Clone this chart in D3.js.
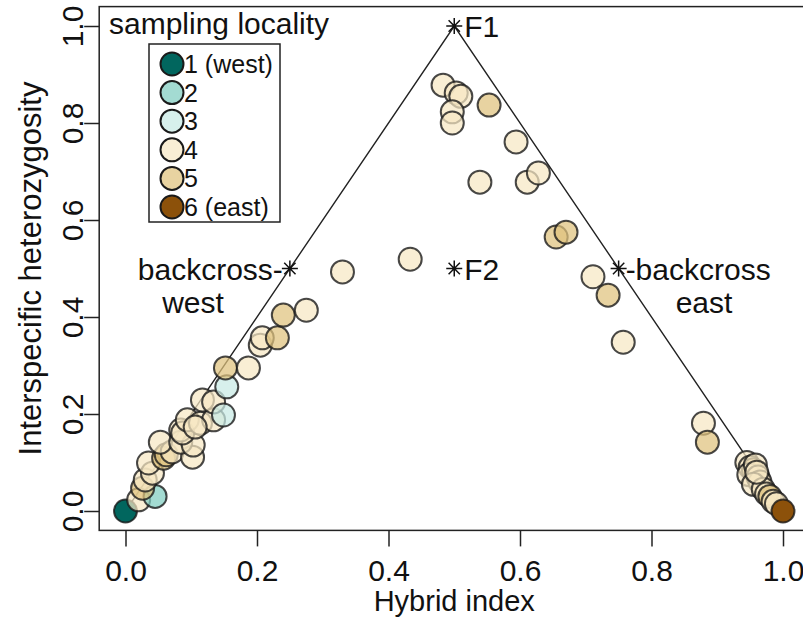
<!DOCTYPE html>
<html lang="en">
<head>
<meta charset="UTF-8">
<title>Hybrid index vs interspecific heterozygosity</title>
<style>
    body { margin: 0; background: #fff; }
    svg text { font-family: "Liberation Sans", Arial, sans-serif; fill: #111; }
</style>
</head>
<body>
<svg id="chart" width="803" height="619"></svg>
<script src="https://d3js.org/d3.v7.min.js"></script>
<script>
// data
const hybridIndex = [
    0.000, 0.020, 0.045, 0.026, 0.030, 0.041, 0.035, 0.058, 0.062, 0.071,
    0.102, 0.053, 0.084, 0.103, 0.084, 0.087, 0.094, 0.114, 0.134, 0.106,
    0.117, 0.134, 0.149, 0.154, 0.152, 0.187, 0.205, 0.208, 0.231, 0.240,
    0.275, 0.330, 0.433,
    0.483, 0.503, 0.510, 0.553, 0.497, 0.497, 0.594, 0.539, 0.611, 0.628,
    0.655, 0.670, 0.711, 0.734, 0.757, 0.879, 0.885,
    0.945, 0.950, 0.955, 0.948, 0.958, 0.962, 0.965, 0.955, 0.970, 0.975,
    0.980, 0.985, 0.960, 0.990, 1.000
];
const heterozygosity = [
    0.000, 0.023, 0.030, 0.047, 0.064, 0.078, 0.099, 0.109, 0.116, 0.122,
    0.111, 0.142, 0.142, 0.136, 0.167, 0.161, 0.188, 0.181, 0.188, 0.173,
    0.229, 0.225, 0.198, 0.256, 0.295, 0.295, 0.342, 0.357, 0.357, 0.404,
    0.414, 0.493, 0.519,
    0.878, 0.862, 0.855, 0.837, 0.823, 0.800, 0.761, 0.678, 0.678, 0.697,
    0.565, 0.575, 0.483, 0.445, 0.348, 0.181, 0.142,
    0.100, 0.090, 0.085, 0.075, 0.095, 0.070, 0.060, 0.055, 0.045, 0.035,
    0.030, 0.020, 0.080, 0.015, 0.000
];
const locality = [
    1, 4, 2, 5, 4, 4, 4, 5, 5, 4,
    4, 4, 4, 4, 4, 4, 4, 4, 4, 4,
    4, 4, 3, 3, 5, 4, 4, 4, 5, 5,
    4, 4, 4,
    4, 4, 4, 5, 4, 4, 4, 4, 4, 4,
    5, 5, 4, 5, 4, 4, 5,
    4, 4, 5, 4, 4, 4, 4, 4, 4, 4,
    5, 4, 4, 4, 6
];
const legendLabels = ["1 (west)", "2", "3", "4", "5", "6 (east)"];
const localityColors = ["#01665e", "#80cdc1", "#c7eae5", "#f6e8c3", "#dfc27d", "#8c510a"];
const xTicks = [0, 0.2, 0.4, 0.6, 0.8, 1.0];
const yTicks = [0, 0.2, 0.4, 0.6, 0.8, 1.0];
const triangle = [[0, 0], [0.5, 1], [1, 0]];
const markers = [
    { name: "F1", x: 0.5, y: 1.0 },
    { name: "F2", x: 0.5, y: 0.5 },
    { name: "bw", x: 0.25, y: 0.5 },
    { name: "be", x: 0.75, y: 0.5 }
];

const points = hybridIndex.map((h, i) => ({ x: h, y: heterozygosity[i], loc: locality[i] }));

const svg = d3.select("#chart");

// R style: 4% padding on each side
const x = d3.scaleLinear().domain([-0.04, 1.04]).range([99.2, 809.3]);
const y = d3.scaleLinear().domain([-0.04, 1.04]).range([530.4, 6.6]);
const color = d3.scaleOrdinal().domain([1, 2, 3, 4, 5, 6]).range(localityColors);

// plot box
svg.append("rect")
    .attr("x", x(-0.04)).attr("y", y(1.04))
    .attr("width", x(1.04) - x(-0.04))
    .attr("height", y(-0.04) - y(1.04))
    .attr("fill", "none").attr("stroke", "#222").attr("stroke-width", 1.5);

// axes
const xAxis = svg.append("g")
    .attr("transform", `translate(0,${y(-0.04)})`)
    .call(d3.axisBottom(x).tickValues(xTicks).tickFormat(d3.format(".1f")).tickSize(16).tickPadding(13));
xAxis.select(".domain").remove();
xAxis.selectAll("line").attr("stroke", "#222").attr("stroke-width", 1.5);
xAxis.selectAll("text").style("font-size", "30px").attr("fill", "#111");

const yAxis = svg.append("g")
    .attr("transform", `translate(${x(-0.04)},0)`)
    .call(d3.axisLeft(y).tickValues(yTicks).tickFormat(d3.format(".1f")).tickSize(15).tickPadding(8));
yAxis.select(".domain").remove();
yAxis.selectAll("line").attr("stroke", "#222").attr("stroke-width", 1.5);
yAxis.selectAll("text")
    .style("font-size", "30px").attr("fill", "#111")
    .attr("text-anchor", "middle")
    .attr("x", null).attr("dy", null)
    .attr("transform", "translate(-16,0) rotate(-90)");

svg.append("text")
    .attr("x", x(0.5)).attr("y", 611)
    .attr("text-anchor", "middle")
    .style("font-size", "29px")
    .text("Hybrid index");

svg.append("text")
    .attr("transform", `translate(41,${y(0.5)}) rotate(-90)`)
    .attr("text-anchor", "middle")
    .style("font-size", "31px")
    .text("Interspecific heterozygosity");

// triangle of expectations
svg.append("path")
    .attr("d", d3.line().x(d => x(d[0])).y(d => y(d[1]))(triangle))
    .attr("fill", "none").attr("stroke", "#222").attr("stroke-width", 1.4);

// points
svg.append("g").selectAll("circle")
    .data(points)
    .join("circle")
    .attr("cx", d => x(d.x))
    .attr("cy", d => y(d.y))
    .attr("r", 11.5)
    .attr("fill", d => color(d.loc))
    .attr("fill-opacity", d => d.loc === 1 || d.loc === 6 ? 1 : 0.72)
    .attr("stroke", "#1a1a1a")
    .attr("stroke-opacity", 0.8)
    .attr("stroke-width", 2);

// asterisks (pch 8)
const star = 8;
svg.append("g").selectAll("path")
    .data(markers)
    .join("path")
    .attr("d", d => {
        const cx = x(d.x), cy = y(d.y), a = star * 0.707;
        return `M${cx - star},${cy}H${cx + star}M${cx},${cy - star}V${cy + star}` +
            `M${cx - a},${cy - a}L${cx + a},${cy + a}M${cx - a},${cy + a}L${cx + a},${cy - a}`;
    })
    .attr("stroke", "#111").attr("stroke-width", 1.5).attr("fill", "none");

const lab = (t, px, py, anchor) => svg.append("text")
    .attr("x", px).attr("y", py).attr("text-anchor", anchor)
    .style("font-size", "30px").text(t);

lab("F1", x(0.5) + 10, y(1.0) + 11, "start");
lab("F2", x(0.5) + 10, y(0.5) + 11, "start");
lab("backcross-", x(0.25) - 7, y(0.5) + 11, "end");
lab("west", 193, 313, "middle");
lab("-backcross", x(0.75) + 7, y(0.5) + 11, "start");
lab("east", 704, 313, "middle");

// legend
svg.append("text")
    .attr("x", 109).attr("y", 34)
    .style("font-size", "30px")
    .text("sampling locality");

svg.append("rect")
    .attr("x", 149).attr("y", 44)
    .attr("width", 131).attr("height", 178)
    .attr("fill", "#fff").attr("stroke", "#222").attr("stroke-width", 1.5);

const leg = svg.append("g").selectAll("g")
    .data(legendLabels)
    .join("g")
    .attr("transform", (d, i) => `translate(172,${64 + i * 28.6})`);

leg.append("circle")
    .attr("r", 11.5)
    .attr("fill", (d, i) => color(i + 1))
    .attr("fill-opacity", (d, i) => i === 0 || i === 5 ? 1 : 0.72)
    .attr("stroke", "#1a1a1a").attr("stroke-width", 2);

leg.append("text")
    .attr("x", 12).attr("y", 9)
    .style("font-size", "25px")
    .text(d => d);
</script>
</body>
</html>
